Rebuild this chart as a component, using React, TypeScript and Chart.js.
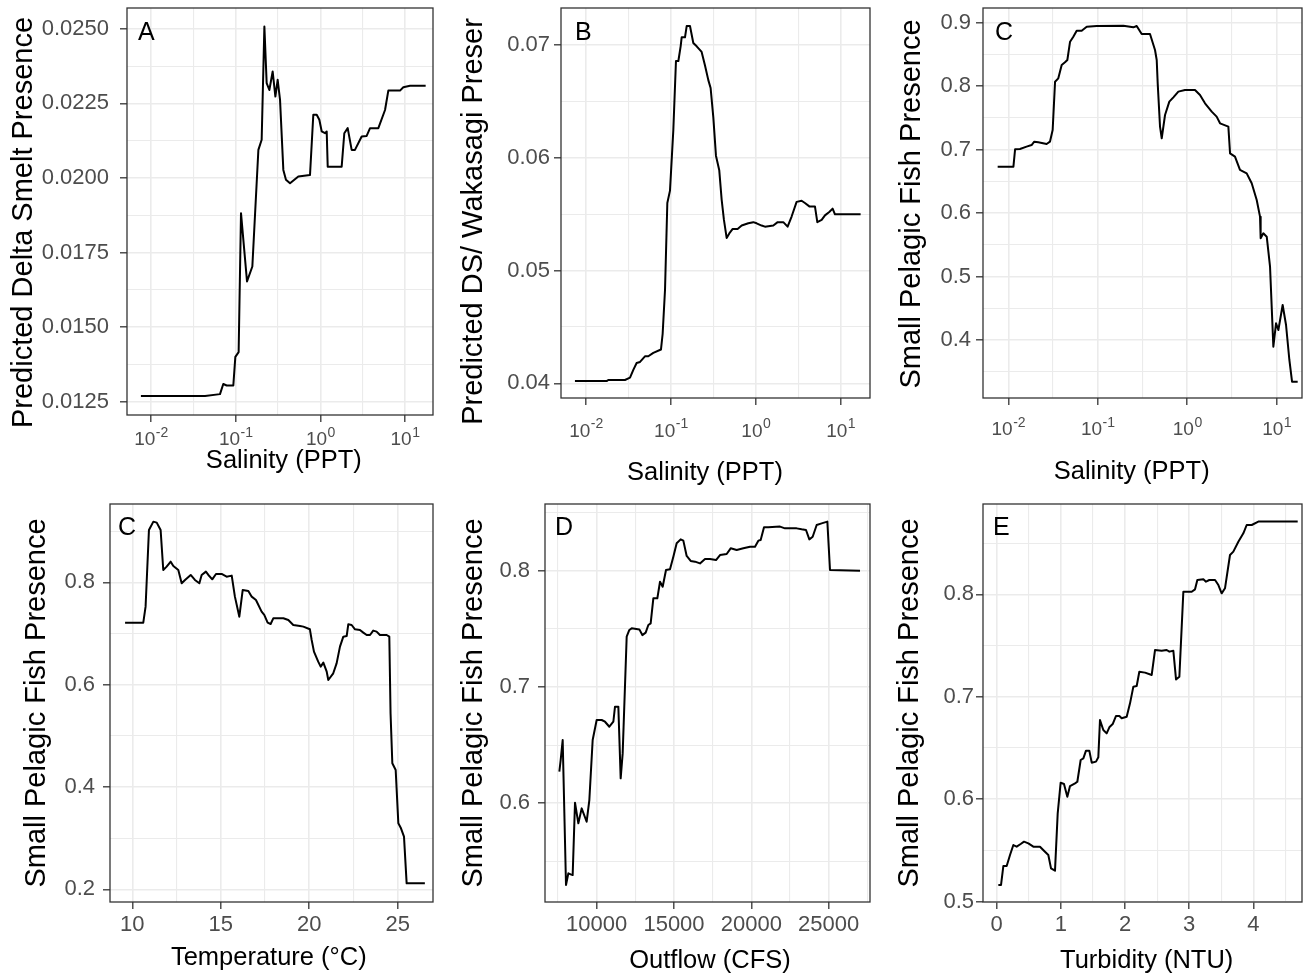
import React, { useEffect, useRef } from "react";
import { Chart, registerables } from "chart.js";

Chart.register(...registerables);

// ---------------- Data ----------------
// Panel A: salinity (PPT) vs predicted Delta Smelt presence
const salinityA = [0.0076, 0.0435, 0.0653, 0.0714, 0.0783, 0.0938, 0.0991, 0.1084, 0.1156, 0.1361, 0.1574, 0.1854, 0.2028, 0.2183, 0.2323, 0.25, 0.2735, 0.2944, 0.3133, 0.3342, 0.3656, 0.3926, 0.4385, 0.5495, 0.7551, 0.826, 0.906, 0.973, 1.038, 1.135, 1.189, 1.222, 1.786, 1.919, 2.104, 2.344, 2.564, 3.076, 3.524, 3.864, 4.842, 5.808, 6.353, 8.73, 9.55, 11.46, 17.54];
const smeltA = [0.01269, 0.01269, 0.01275, 0.01309, 0.01304, 0.01304, 0.0140, 0.01416, 0.01882, 0.01653, 0.01703, 0.02094, 0.02128, 0.02508, 0.02318, 0.02295, 0.02357, 0.02273, 0.02329, 0.02262, 0.02027, 0.01994, 0.01982, 0.02005, 0.0201, 0.02212, 0.02212, 0.02195, 0.02156, 0.0215, 0.02156, 0.02038, 0.02038, 0.0215, 0.02167, 0.02094, 0.02094, 0.02139, 0.02141, 0.02167, 0.02167, 0.02228, 0.02293, 0.02293, 0.02304, 0.02309, 0.02309];

// Panel B: salinity vs predicted DS/Wakasagi presence
const salinityB = [0.00741, 0.0175, 0.0183, 0.0288, 0.033, 0.0361, 0.0395, 0.0433, 0.0495, 0.0542, 0.0621, 0.0764, 0.08, 0.0853, 0.0908, 0.0976, 0.1069, 0.1148, 0.1225, 0.1303, 0.134, 0.1466, 0.1535, 0.1679, 0.1837, 0.2014, 0.2303, 0.2523, 0.2761, 0.2938, 0.3162, 0.3396, 0.3715, 0.3963, 0.4217, 0.4539, 0.4876, 0.5346, 0.6109, 0.6823, 0.8166, 0.9354, 1.023, 1.172, 1.283, 1.61, 1.811, 2.109, 2.372, 2.644, 3.027, 3.467, 3.793, 4.275, 4.977, 5.309, 5.97, 6.531, 7.345, 8.04, 8.57, 17.18];
const wakasagiB = [0.0402, 0.0402, 0.0403, 0.0403, 0.0405, 0.0412, 0.0418, 0.0419, 0.0424, 0.0424, 0.0427, 0.0430, 0.0444, 0.0483, 0.0560, 0.0571, 0.0625, 0.0686, 0.0686, 0.0699, 0.0707, 0.0707, 0.0717, 0.0717, 0.0702, 0.0699, 0.0694, 0.0682, 0.0669, 0.0662, 0.0636, 0.0602, 0.0589, 0.0563, 0.0545, 0.0529, 0.0533, 0.0537, 0.0537, 0.0540, 0.0542, 0.0543, 0.0542, 0.0540, 0.0539, 0.0540, 0.0543, 0.0543, 0.0539, 0.0548, 0.0561, 0.0562, 0.0560, 0.0557, 0.0557, 0.0543, 0.0545, 0.0549, 0.0552, 0.0555, 0.0550, 0.0550];

// Panel C (top): salinity vs small pelagic fish presence
const salinityC = [0.0076, 0.0114, 0.0119, 0.0135, 0.016, 0.0182, 0.0195, 0.0216, 0.0268, 0.0292, 0.0313, 0.0333, 0.0362, 0.0395, 0.043, 0.0457, 0.049, 0.0533, 0.0581, 0.0661, 0.0752, 0.0973, 0.1932, 0.25, 0.2723, 0.3097, 0.3837, 0.4365, 0.456, 0.4677, 0.4966, 0.5188, 0.5649, 0.631, 0.6998, 0.7962, 0.9441, 1.222, 1.39, 1.581, 1.879, 2.133, 2.328, 2.884, 3.013, 3.42, 3.89, 4.624, 5.26, 5.984, 6.516, 6.622, 7.096, 7.745, 8.433, 9.183, 9.84, 10.45, 11.67, 12.73, 13.87, 14.86, 17.18];
const pelagicC = [0.6731, 0.6731, 0.7004, 0.7009, 0.7046, 0.7072, 0.7125, 0.7114, 0.7088, 0.7125, 0.7309, 0.807, 0.8123, 0.8333, 0.8375, 0.8412, 0.870, 0.8779, 0.8874, 0.8874, 0.8937, 0.8947, 0.8953, 0.8926, 0.8947, 0.8821, 0.8821, 0.8569, 0.8412, 0.8044, 0.7361, 0.7178, 0.7545, 0.7755, 0.7823, 0.7913, 0.7939, 0.7939, 0.786, 0.7729, 0.7598, 0.7519, 0.7414, 0.7361, 0.6941, 0.6889, 0.6679, 0.6626, 0.6469, 0.6206, 0.5943, 0.5602, 0.5681, 0.5628, 0.5155, 0.3895, 0.4263, 0.4158, 0.4551, 0.4236, 0.3685, 0.3343, 0.3343];

// Panel C (bottom): temperature vs small pelagic fish presence
const temperatureC2 = [9.59, 10.62, 10.75, 10.94, 11.19, 11.38, 11.60, 11.75, 11.94, 12.17, 12.32, 12.60, 12.79, 12.98, 13.30, 13.54, 13.79, 13.92, 14.16, 14.30, 14.52, 14.73, 15.05, 15.33, 15.62, 15.80, 16.05, 16.24, 16.56, 16.75, 16.99, 17.31, 17.46, 17.65, 17.82, 17.97, 18.54, 18.82, 19.10, 19.48, 19.67, 20.04, 20.14, 20.27, 20.51, 20.65, 20.80, 20.99, 21.08, 21.36, 21.55, 21.74, 21.93, 22.12, 22.21, 22.40, 22.59, 22.87, 23.06, 23.25, 23.44, 23.62, 23.81, 24.00, 24.38, 24.53, 24.60, 24.70, 24.89, 25.04, 25.19, 25.36, 25.51, 26.54];
const pelagicC2 = [0.7212, 0.7212, 0.7525, 0.9023, 0.9186, 0.9167, 0.9023, 0.8241, 0.8307, 0.8404, 0.8319, 0.8241, 0.7981, 0.8046, 0.8144, 0.8046, 0.7981, 0.8144, 0.8209, 0.8144, 0.8059, 0.8163, 0.8163, 0.8111, 0.8131, 0.7720, 0.7329, 0.7850, 0.7831, 0.7720, 0.7655, 0.7427, 0.7362, 0.7212, 0.7186, 0.7297, 0.7297, 0.7264, 0.7166, 0.7147, 0.7134, 0.7082, 0.6873, 0.6645, 0.6450, 0.6352, 0.6430, 0.6254, 0.6091, 0.6222, 0.6417, 0.6743, 0.6938, 0.6951, 0.7179, 0.7166, 0.7082, 0.7069, 0.7017, 0.6971, 0.6971, 0.7056, 0.7036, 0.6971, 0.6971, 0.6938, 0.5440, 0.4463, 0.4332, 0.3290, 0.3192, 0.3029, 0.2117, 0.2117];

// Panel D: outflow (CFS) vs small pelagic fish presence
const outflowD = [7586, 7672, 7802, 8017, 8168, 8319, 8448, 8599, 8815, 9030, 9353, 9526, 9741, 10000, 10323, 10539, 10819, 11078, 11185, 11401, 11552, 11681, 11940, 12112, 12263, 12759, 12953, 13168, 13341, 13491, 13664, 13922, 14095, 14267, 14483, 14741, 14957, 15172, 15431, 15603, 15819, 16078, 16358, 16681, 17004, 17328, 17716, 17974, 18405, 18664, 19052, 19483, 19914, 20237, 20453, 20603, 20819, 21099, 21853, 22177, 22931, 23254, 23534, 23750, 23966, 24224, 24547, 24914, 25086, 27025];
const pelagicD = [0.6270, 0.6371, 0.6543, 0.5293, 0.5394, 0.5385, 0.5379, 0.6003, 0.5825, 0.5954, 0.5839, 0.6026, 0.6543, 0.6716, 0.6716, 0.6701, 0.6658, 0.6701, 0.6831, 0.6831, 0.6213, 0.6428, 0.7434, 0.7492, 0.7506, 0.7497, 0.7448, 0.7469, 0.7535, 0.7549, 0.7765, 0.7765, 0.7908, 0.7865, 0.8009, 0.8015, 0.8124, 0.8239, 0.8273, 0.8262, 0.8130, 0.8087, 0.8081, 0.8066, 0.8104, 0.8104, 0.8095, 0.8138, 0.8147, 0.8196, 0.8181, 0.8196, 0.8210, 0.8210, 0.8262, 0.8268, 0.8377, 0.8377, 0.8383, 0.8368, 0.8368, 0.8360, 0.8354, 0.8273, 0.8296, 0.8397, 0.8411, 0.8426, 0.8009, 0.8003];

// Panel E: turbidity (NTU) vs small pelagic fish presence
const turbidityE = [0.026, 0.068, 0.104, 0.156, 0.208, 0.260, 0.312, 0.374, 0.426, 0.494, 0.571, 0.675, 0.753, 0.805, 0.847, 0.909, 0.951, 0.997, 1.049, 1.101, 1.143, 1.221, 1.257, 1.309, 1.351, 1.392, 1.444, 1.481, 1.548, 1.584, 1.610, 1.662, 1.714, 1.756, 1.808, 1.860, 1.912, 1.948, 2.026, 2.078, 2.130, 2.182, 2.223, 2.312, 2.416, 2.468, 2.571, 2.649, 2.691, 2.753, 2.795, 2.847, 2.909, 3.039, 3.091, 3.127, 3.221, 3.262, 3.314, 3.403, 3.455, 3.506, 3.558, 3.636, 3.688, 3.766, 3.844, 3.896, 3.974, 4.078, 4.691];
const pelagicE = [0.5163, 0.5163, 0.5348, 0.5348, 0.5456, 0.5553, 0.5537, 0.5563, 0.5586, 0.5569, 0.5537, 0.5537, 0.5488, 0.5456, 0.5325, 0.5303, 0.5862, 0.6162, 0.6149, 0.6025, 0.6129, 0.6155, 0.6171, 0.6383, 0.6399, 0.6474, 0.6474, 0.6357, 0.6367, 0.6409, 0.6773, 0.6676, 0.6643, 0.6702, 0.6734, 0.6813, 0.6813, 0.6790, 0.6806, 0.6936, 0.7099, 0.7105, 0.7245, 0.7236, 0.7213, 0.7457, 0.7450, 0.7457, 0.7441, 0.7450, 0.7170, 0.7196, 0.8026, 0.8026, 0.8049, 0.8140, 0.8147, 0.8124, 0.8140, 0.8140, 0.8091, 0.8010, 0.8059, 0.8384, 0.8417, 0.8514, 0.8596, 0.8677, 0.8677, 0.8710, 0.8710];

// ---------------- Ticks ----------------
const logTicks = [0.01, 0.1, 1, 10];
const logTickExponents = ["-2", "-1", "0", "1"];
const logMinor = [0.0316228, 0.316228, 3.16228];

const yTicksA = [0.0125, 0.015, 0.0175, 0.02, 0.0225, 0.025];
const yTickLabelsA = ["0.0125", "0.0150", "0.0175", "0.0200", "0.0225", "0.0250"];
const yMinorA = [0.01375, 0.01625, 0.01875, 0.02125, 0.02375];

const yTicksB = [0.04, 0.05, 0.06, 0.07];
const yTickLabelsB = ["0.04", "0.05", "0.06", "0.07"];
const yMinorB = [0.045, 0.055, 0.065];

const yTicksC = [0.4, 0.5, 0.6, 0.7, 0.8, 0.9];
const yTickLabelsC = ["0.4", "0.5", "0.6", "0.7", "0.8", "0.9"];
const yMinorC = [0.35, 0.45, 0.55, 0.65, 0.75, 0.85];

const xTicksC2 = [10, 15, 20, 25];
const xTickLabelsC2 = ["10", "15", "20", "25"];
const xMinorC2 = [12.5, 17.5, 22.5];
const yTicksC2 = [0.2, 0.4, 0.6, 0.8];
const yTickLabelsC2 = ["0.2", "0.4", "0.6", "0.8"];
const yMinorC2 = [0.3, 0.5, 0.7, 0.9];

const xTicksD = [10000, 15000, 20000, 25000];
const xTickLabelsD = ["10000", "15000", "20000", "25000"];
const xMinorD = [7500, 12500, 17500, 22500, 27500];
const yTicksD = [0.6, 0.7, 0.8];
const yTickLabelsD = ["0.6", "0.7", "0.8"];
const yMinorD = [0.55, 0.65, 0.75, 0.85];

const xTicksE = [0, 1, 2, 3, 4];
const xTickLabelsE = ["0", "1", "2", "3", "4"];
const xMinorE = [0.5, 1.5, 2.5, 3.5, 4.5];
const yTicksE = [0.5, 0.6, 0.7, 0.8];
const yTickLabelsE = ["0.5", "0.6", "0.7", "0.8"];
const yMinorE = [0.55, 0.65, 0.75, 0.85];

// ---------------- Styling / layout ----------------
const FONT = '"Liberation Sans", Arial, Helvetica, sans-serif';
const GRID = "#EBEBEB";
const INK = "#333333";
const TICK_TEXT = "#4D4D4D";
const PAD_L = 130;
const PAD_T = 30;
const PAD_R = 30;
const PAD_B = 90;

type Panel = {
  key: string;
  rect: [number, number, number, number];
  xLog: boolean;
  xMin: number; xMax: number; yMin: number; yMax: number;
  xs: number[]; ys: number[];
  xMajor: number[]; xMinor: number[]; xLabels: string[];
  yMajor: number[]; yMinor: number[]; yLabels: string[];
  yTickPad: number;
  letter: string; letterAt: [number, number];
  xTitle: string; xTitleAt: [number, number];
  yTitle: string; yTitleAt: [number, number];
  logBaseline?: number;
};

const PANELS: Panel[] = [
  {
    key: "A", rect: [127, 8, 433, 415], xLog: true,
    xMin: 0.005206, xMax: 21.41, yMin: 0.01205, yMax: 0.0257,
    xs: salinityA, ys: smeltA,
    xMajor: logTicks, xMinor: logMinor, xLabels: logTickExponents,
    yMajor: yTicksA, yMinor: yMinorA, yLabels: yTickLabelsA, yTickPad: 11,
    letter: "A", letterAt: [138, 40],
    xTitle: "Salinity (PPT)", xTitleAt: [283.8, 468],
    yTitle: "Predicted Delta Smelt Presence", yTitleAt: [31.5, 222.5],
    logBaseline: 445,
  },
  {
    key: "B", rect: [561, 8, 870, 398], xLog: true,
    xMin: 0.005077, xMax: 22.16, yMin: 0.0387, yMax: 0.0733,
    xs: salinityB, ys: wakasagiB,
    xMajor: logTicks, xMinor: logMinor, xLabels: logTickExponents,
    yMajor: yTicksB, yMinor: yMinorB, yLabels: yTickLabelsB, yTickPad: 4,
    letter: "B", letterAt: [575, 40],
    xTitle: "Salinity (PPT)", xTitleAt: [705, 480],
    yTitle: "Predicted DS/ Wakasagi Preser", yTitleAt: [481.5, 221.5],
    logBaseline: 436.5,
  },
  {
    key: "C", rect: [983, 8, 1302, 398], xLog: true,
    xMin: 0.00521, xMax: 19.2, yMin: 0.3086, yMax: 0.9231,
    xs: salinityC, ys: pelagicC,
    xMajor: logTicks, xMinor: logMinor, xLabels: logTickExponents,
    yMajor: yTicksC, yMinor: yMinorC, yLabels: yTickLabelsC, yTickPad: 5,
    letter: "C", letterAt: [995, 40],
    xTitle: "Salinity (PPT)", xTitleAt: [1131.7, 479],
    yTitle: "Small Pelagic Fish Presence", yTitleAt: [920, 204],
    logBaseline: 435,
  },
  {
    key: "C2", rect: [110, 504, 433, 902], xLog: false,
    xMin: 8.738, xMax: 27.0, yMin: 0.1752, yMax: 0.9531,
    xs: temperatureC2, ys: pelagicC2,
    xMajor: xTicksC2, xMinor: xMinorC2, xLabels: xTickLabelsC2,
    yMajor: yTicksC2, yMinor: yMinorC2, yLabels: yTickLabelsC2, yTickPad: 8,
    letter: "C", letterAt: [118, 535],
    xTitle: "Temperature (°C)", xTitleAt: [268.8, 965],
    yTitle: "Small Pelagic Fish Presence", yTitleAt: [45, 703],
  },
  {
    key: "D", rect: [545, 504, 870, 902], xLog: false,
    xMin: 6659, xMax: 27672, yMin: 0.5147, yMax: 0.8578,
    xs: outflowD, ys: pelagicD,
    xMajor: xTicksD, xMinor: xMinorD, xLabels: xTickLabelsD,
    yMajor: yTicksD, yMinor: yMinorD, yLabels: yTickLabelsD, yTickPad: 8,
    letter: "D", letterAt: [555, 535],
    xTitle: "Outflow (CFS)", xTitleAt: [710, 968],
    yTitle: "Small Pelagic Fish Presence", yTitleAt: [481.5, 703],
  },
  {
    key: "E", rect: [983, 504, 1302, 902], xLog: false,
    xMin: -0.213, xMax: 4.758, yMin: 0.4997, yMax: 0.8882,
    xs: turbidityE, ys: pelagicE,
    xMajor: xTicksE, xMinor: xMinorE, xLabels: xTickLabelsE,
    yMajor: yTicksE, yMinor: yMinorE, yLabels: yTickLabelsE, yTickPad: 2,
    letter: "E", letterAt: [993, 535],
    xTitle: "Turbidity (NTU)", xTitleAt: [1146.7, 968],
    yTitle: "Small Pelagic Fish Presence", yTitleAt: [918, 703],
  },
];

const near = (a: number, b: number) => Math.abs(a - b) <= Math.abs(a) * 1e-6 + 1e-12;
const majorIndex = (arr: number[], v: any) =>
  typeof v === "number" ? arr.findIndex((a) => near(a, v)) : -1;

function axisOptions(p: Panel, axis: "x" | "y"): any {
  const major = axis === "x" ? p.xMajor : p.yMajor;
  const minor = axis === "x" ? p.xMinor : p.yMinor;
  const labels = axis === "x" ? p.xLabels : p.yLabels;
  const isMaj = (c: any) => majorIndex(major, c && c.tick ? c.tick.value : undefined) >= 0;
  return {
    type: axis === "x" ? (p.xLog ? "logarithmic" : "linear") : "linear",
    position: axis === "x" ? "bottom" : "left",
    min: axis === "x" ? p.xMin : p.yMin,
    max: axis === "x" ? p.xMax : p.yMax,
    bounds: "data",
    afterBuildTicks: (s: any) => {
      s.ticks = [...major, ...minor].sort((a, b) => a - b).map((v) => ({ value: v }));
    },
    afterFit: (s: any) => {
      if (axis === "x") s.height = PAD_B;
      else s.width = PAD_L;
    },
    ticks: {
      display: axis === "x" ? !p.xLog : true,
      autoSkip: false,
      maxRotation: 0,
      minRotation: 0,
      padding: axis === "x" ? 3 : p.yTickPad,
      color: TICK_TEXT,
      font: { family: FONT, size: 22 },
      callback: (v: any) => {
        const i = majorIndex(major, v);
        return i >= 0 ? labels[i] : "";
      },
    },
    grid: {
      display: true,
      drawOnChartArea: true,
      drawTicks: true,
      tickLength: 7,
      color: GRID,
      lineWidth: (c: any) => (isMaj(c) ? 1.6 : 1.1),
      tickColor: (c: any) => (isMaj(c) ? INK : "rgba(0,0,0,0)"),
      tickWidth: 1.3,
    },
    border: { display: false },
    title: { display: false },
  };
}

function decorPlugin(p: Panel) {
  const ox = p.rect[0] - PAD_L;
  const oy = p.rect[1] - PAD_T;
  return {
    id: "decor" + p.key,
    afterDatasetsDraw(chart: any) {
      const { ctx, chartArea: a } = chart;
      ctx.save();
      ctx.strokeStyle = INK;
      ctx.lineWidth = 1.3;
      ctx.strokeRect(a.left, a.top, a.right - a.left, a.bottom - a.top);
      ctx.restore();
    },
    afterDraw(chart: any) {
      const ctx = chart.ctx as CanvasRenderingContext2D;
      ctx.save();
      ctx.fillStyle = "#000000";
      ctx.textBaseline = "alphabetic";
      // panel letter
      ctx.font = `25px ${FONT}`;
      ctx.textAlign = "left";
      ctx.fillText(p.letter, p.letterAt[0] - ox, p.letterAt[1] - oy);
      // x title
      ctx.font = `25.5px ${FONT}`;
      ctx.textAlign = "center";
      ctx.fillText(p.xTitle, p.xTitleAt[0] - ox, p.xTitleAt[1] - oy);
      // y title
      ctx.save();
      ctx.translate(p.yTitleAt[0] - ox, p.yTitleAt[1] - oy);
      ctx.rotate(-Math.PI / 2);
      ctx.font = `29px ${FONT}`;
      ctx.textAlign = "center";
      ctx.fillText(p.yTitle, 0, 0);
      ctx.restore();
      // log tick labels 10^n
      if (p.xLog && p.logBaseline !== undefined) {
        const sc = chart.scales.x;
        const base = p.logBaseline - oy;
        ctx.fillStyle = TICK_TEXT;
        ctx.textAlign = "left";
        p.xMajor.forEach((v, i) => {
          const px = sc.getPixelForValue(v);
          ctx.font = `19px ${FONT}`;
          const w1 = ctx.measureText("10").width;
          ctx.font = `14px ${FONT}`;
          const w2 = ctx.measureText(p.xLabels[i]).width;
          const x0 = px - (w1 + w2) / 2;
          ctx.font = `19px ${FONT}`;
          ctx.fillText("10", x0, base);
          ctx.font = `14px ${FONT}`;
          ctx.fillText(p.xLabels[i], x0 + w1 + 0.5, base - 8.5);
        });
      }
      ctx.restore();
    },
  };
}

function PanelChart({ p }: { p: Panel }) {
  const ref = useRef<HTMLCanvasElement | null>(null);
  const w = p.rect[2] - p.rect[0] + PAD_L + PAD_R;
  const h = p.rect[3] - p.rect[1] + PAD_T + PAD_B;
  useEffect(() => {
    if (!ref.current) return;
    const chart = new Chart(ref.current, {
      type: "line",
      data: {
        datasets: [
          {
            data: p.xs.map((x, i) => ({ x, y: p.ys[i] })),
            borderColor: "#000000",
            borderWidth: 2,
            borderJoinStyle: "round",
            pointRadius: 0,
            pointHoverRadius: 0,
            tension: 0,
            fill: false,
          } as any,
        ],
      },
      options: {
        responsive: false,
        maintainAspectRatio: false,
        animation: false,
        devicePixelRatio: 1,
        events: [],
        layout: { padding: { left: 0, top: PAD_T, right: PAD_R, bottom: 0 } },
        plugins: {
          legend: { display: false },
          tooltip: { enabled: false },
          title: { display: false },
        },
        scales: {
          x: axisOptions(p, "x"),
          y: axisOptions(p, "y"),
        },
      } as any,
      plugins: [decorPlugin(p) as any],
    });
    return () => chart.destroy();
  }, [p]);
  return (
    <canvas
      ref={ref}
      width={w}
      height={h}
      style={{
        position: "absolute",
        left: p.rect[0] - PAD_L,
        top: p.rect[1] - PAD_T,
        width: w,
        height: h,
      }}
    />
  );
}

export default function App() {
  return (
    <div
      style={{
        position: "absolute",
        left: 0,
        top: 0,
        width: 1304,
        height: 975,
        overflow: "hidden",
        background: "#ffffff",
      }}
    >
      {PANELS.map((p) => (
        <PanelChart key={p.key} p={p} />
      ))}
    </div>
  );
}
